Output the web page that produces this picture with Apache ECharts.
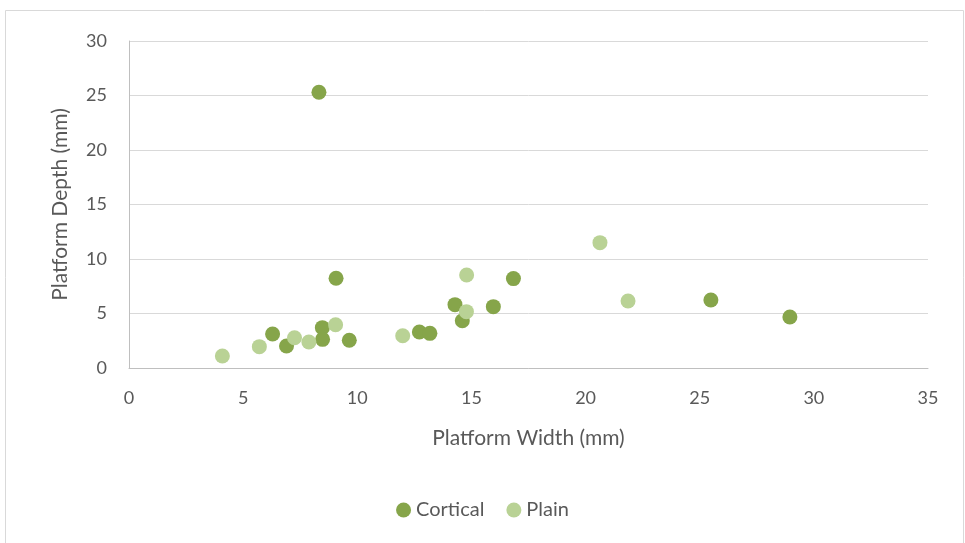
<!DOCTYPE html>
<html style="height: 100%">
<head>
    <meta charset="utf-8">
</head>
<body style="height: 100%; margin: 0; background-color: #fff;">
<div id="container" style="width: 965px; height: 543px;"></div>
<script type="text/javascript" src="https://cdn.jsdelivr.net/npm/echarts@6/dist/echarts.min.js"></script>
<script type="text/javascript">
// platform width / depth in mm
var corticalWidth = [8.32, 6.29, 6.9, 8.47, 8.48, 9.07, 9.65, 12.72, 13.18, 14.28, 14.6, 15.96, 16.84, 25.49, 28.95];
var corticalDepth = [25.3, 3.12, 2.02, 3.7, 2.63, 8.23, 2.54, 3.3, 3.18, 5.81, 4.34, 5.63, 8.2, 6.24, 4.68];
var plainWidth = [4.09, 5.71, 7.25, 7.88, 9.05, 11.99, 14.79, 14.78, 20.63, 21.86];
var plainDepth = [1.1, 1.96, 2.78, 2.39, 3.97, 2.96, 8.53, 5.17, 11.5, 6.15];

var seriesNames = ['Cortical', 'Plain'];
var seriesColors = ['#86a54a', '#b9d295'];

function pairs(xs, ys) {
    var out = [];
    for (var i = 0; i < xs.length; i++) {
        out.push([xs[i], ys[i]]);
    }
    return out;
}

var myChart = echarts.init(document.getElementById('container'));
var fontName = 'Lato, "Open Sans", sans-serif';

var option = {
    backgroundColor: '#fff',
    textStyle: { fontFamily: fontName },
    graphic: [{
        type: 'rect',
        shape: { x: 5.5, y: 10.5, width: 958, height: 540 },
        style: { fill: 'none', stroke: '#d9d9d9', lineWidth: 1 },
        silent: true
    }],
    grid: {
        left: 129,
        right: 37,
        top: 41,
        bottom: 175
    },
    legend: {
        bottom: 18,
        left: 'center',
        itemWidth: 15,
        itemHeight: 15,
        itemGap: 22,
        textStyle: { fontSize: 20, color: '#595959', fontFamily: fontName },
        data: [
            { name: seriesNames[0], icon: 'circle' },
            { name: seriesNames[1], icon: 'circle' }
        ]
    },
    xAxis: {
        type: 'value',
        min: 0,
        max: 35,
        interval: 5,
        name: 'Platform Width (mm)',
        nameLocation: 'middle',
        nameGap: 60,
        nameTextStyle: { fontSize: 21, color: '#595959' },
        axisLine: { show: true, lineStyle: { color: '#bfbfbf' } },
        axisTick: { show: false },
        axisLabel: { fontSize: 18, color: '#595959', margin: 21 },
        splitLine: { show: false }
    },
    yAxis: {
        type: 'value',
        min: 0,
        max: 30,
        interval: 5,
        name: 'Platform Depth (mm)',
        nameLocation: 'middle',
        nameGap: 58,
        nameTextStyle: { fontSize: 21, color: '#595959' },
        axisLine: { show: true, lineStyle: { color: '#bfbfbf' } },
        axisTick: { show: false },
        axisLabel: { fontSize: 18, color: '#595959', margin: 22 },
        splitLine: { show: true, lineStyle: { color: '#d9d9d9' } }
    },
    series: [{
        name: seriesNames[0],
        type: 'scatter',
        symbolSize: 15,
        itemStyle: { color: seriesColors[0], opacity: 1 },
        data: pairs(corticalWidth, corticalDepth)
    }, {
        name: seriesNames[1],
        type: 'scatter',
        symbolSize: 15,
        itemStyle: { color: seriesColors[1], opacity: 1 },
        data: pairs(plainWidth, plainDepth)
    }]
};

myChart.setOption(option);
</script>
</body>
</html>
